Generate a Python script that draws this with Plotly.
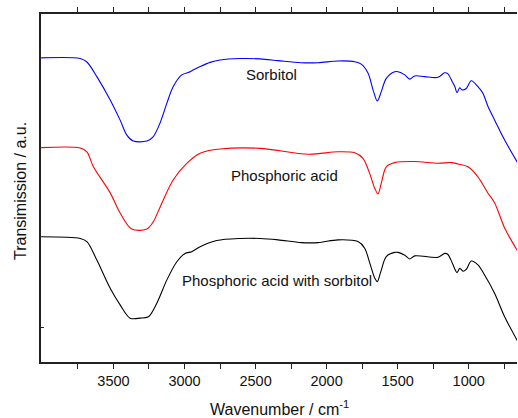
import plotly.graph_objects as go

# Sorbitol (blue)
wn_sorb = [4009, 3734, 3687, 3617, 3523, 3453, 3406, 3361, 3265, 3221, 3172, 3124, 3080, 3019,
           2960, 2939, 2890, 2820, 2749, 2608, 2468, 2342, 2180, 2060, 1919, 1802, 1756, 1708,
           1673, 1643, 1615, 1580, 1521, 1497, 1450, 1415, 1380, 1310, 1216, 1169, 1146, 1115,
           1099, 1082, 1063, 1047, 1017, 982, 935, 900, 864, 817, 747, 653]
t_sorb = [87.4, 87.2, 86.2, 82.0, 75.3, 69.5, 65.2, 63.5, 63.5, 64.7, 68.7, 74.4, 79.1, 82.5,
          83.4, 83.9, 84.9, 86.1, 86.8, 87.2, 87.1, 86.6, 86.0, 86.0, 86.5, 86.3, 85.6, 83.0,
          78.2, 75.0, 77.7, 81.5, 83.4, 83.4, 82.5, 81.3, 82.2, 82.0, 81.8, 83.1, 82.8, 80.5,
          79.3, 77.4, 78.8, 78.2, 78.6, 80.8, 79.1, 77.2, 73.4, 69.5, 63.8, 57.1]

# Phosphoric acid (red)
wn_phos = [4009, 3734, 3687, 3641, 3523, 3453, 3371, 3265, 3221, 3172, 3080, 2984, 2890, 2749,
           2468, 2130, 1919, 1802, 1744, 1697, 1661, 1638, 1615, 1580, 1521, 1380, 1216, 1122,
           1075, 1005, 935, 864, 817, 747, 653]
t_phos = [61.6, 61.5, 60.4, 56.1, 48.6, 42.8, 38.2, 38.2, 40.2, 44.5, 52.3, 57.1, 60.0, 61.2,
          61.4, 59.7, 60.4, 60.1, 58.5, 54.2, 49.9, 48.3, 51.4, 56.1, 57.3, 57.6, 57.1, 57.3,
          56.9, 56.1, 53.2, 48.5, 45.7, 38.5, 31.7]

# Phosphoric acid with sorbitol (black)
wn_mix = [4009, 3734, 3687, 3617, 3523, 3453, 3383, 3312, 3254, 3195, 3124, 3054, 2996, 2949,
          2890, 2773, 2609, 2468, 2342, 2178, 2060, 1919, 1779, 1732, 1696, 1661, 1643, 1619,
          1580, 1521, 1497, 1450, 1415, 1380, 1216, 1169, 1146, 1115, 1082, 1063, 1040, 1017,
          982, 935, 888, 817, 747, 653]
t_mix = [36.0, 35.5, 34.6, 29.3, 21.2, 16.4, 12.6, 12.6, 13.0, 16.9, 23.6, 28.8, 31.2, 31.7,
         33.1, 34.9, 35.5, 35.5, 35.1, 34.3, 34.3, 35.1, 34.6, 32.7, 28.4, 24.1, 23.1, 25.9,
         30.3, 31.5, 31.5, 30.7, 29.6, 30.5, 30.1, 31.2, 30.9, 28.4, 25.7, 26.9, 26.1, 26.6,
         29.0, 27.9, 25.0, 19.7, 13.0, 5.8]

major_ticks = [3500, 3000, 2500, 2000, 1500, 1000]
minor_ticks = [3750, 3250, 2750, 2250, 1750, 1250, 750]

series = [
    ("Sorbitol", wn_sorb, t_sorb, "#0000ff", 2391, 82.5),
    ("Phosphoric acid", wn_phos, t_phos, "#ff0000", 2293, 53.7),
    ("Phosphoric acid with sorbitol", wn_mix, t_mix, "#000000", 2350, 23.3),
]

fig = go.Figure()
for name, x, y, color, lx, ly in series:
    fig.add_trace(go.Scatter(x=x, y=y, mode="lines", name=name,
                             line=dict(color=color, width=1.1, shape="spline", smoothing=0.9),
                             showlegend=False))

FONT = "Liberation Sans, Arial, sans-serif"
annots = []
for name, x, y, color, lx, ly in series:
    annots.append(dict(x=lx, y=ly, xref="x", yref="y", text=name, showarrow=False,
                       font=dict(family=FONT, size=15, color="#111"),
                       xanchor="center", yanchor="middle"))
annots.append(dict(x=0.5, y=-0.133, xref="paper", yref="paper", yanchor="middle",
                   text="Wavenumber / cm<sup>-1</sup>", showarrow=False,
                   font=dict(family=FONT, size=16, color="#111")))
annots.append(dict(x=-0.043, y=0.49, xref="paper", yref="paper", xanchor="center",
                   text="Transimission / a.u.", showarrow=False, textangle=-90,
                   font=dict(family=FONT, size=16, color="#111")))

fig.update_layout(
    width=518, height=418,
    margin=dict(l=41, r=1, t=14, b=56),
    paper_bgcolor="white", plot_bgcolor="white",
    font=dict(family=FONT, size=15, color="#111"),
    annotations=annots,
    xaxis=dict(range=[4010, 660], tickmode="array", tickvals=major_ticks,
               showgrid=False, zeroline=False, showline=True, linecolor="#222", linewidth=1.5,
               mirror="ticks", ticks="outside", ticklen=5, tickwidth=1.2, tickcolor="#222",
               tickfont=dict(family=FONT, size=14.5, color="#111"),
               minor=dict(tickmode="array", tickvals=minor_ticks, ticks="outside",
                          ticklen=5, tickwidth=1.2, tickcolor="#222")),
    yaxis=dict(range=[0, 100], tickmode="array", tickvals=[10], showticklabels=False,
               showgrid=False, zeroline=False, showline=True, linecolor="#222", linewidth=1.5,
               ticks="inside", ticklen=3, tickwidth=1, tickcolor="#222"),
)

fig.write_html("out.html")
